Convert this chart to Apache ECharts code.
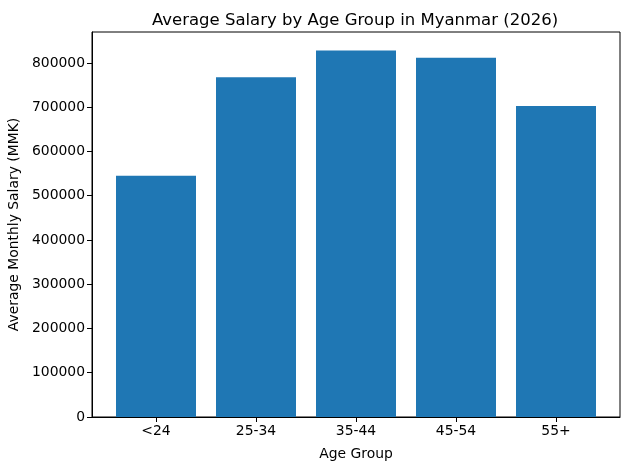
<!DOCTYPE html>
<html><head><meta charset="utf-8">
<script src="https://cdn.jsdelivr.net/npm/echarts@6/dist/echarts.min.js"></script>
<style>html,body{margin:0;padding:0;background:#fff}#c{width:630px;height:470px}</style>
</head><body><div id="c"></div>
<script>
var categories = ['<24', '25-34', '35-44', '45-54', '55+'];
var salaries = [545000, 768000, 828000, 812000, 703000];
var yTicks = [0, 100000, 200000, 300000, 400000, 500000, 600000, 700000, 800000];

var idx = categories.map(function(_, i){ return i; });
var chart = echarts.init(document.getElementById('c'), null, {renderer:'canvas'});
var font = 'DejaVu Sans';
chart.setOption({
  animation:false,
  backgroundColor:'#fff',
  title:{text:'Average Salary by Age Group in Myanmar (2026)', left:350, top:7, textAlign:'center',
    textStyle:{fontFamily:font, fontSize:16.5, fontWeight:'normal', color:'#000'}},
  grid:{left:92, right:10, top:32, bottom:53, containLabel:false, outerBoundsMode:'none',
    show:true, borderColor:'#000', borderWidth:1, backgroundColor:'transparent'},
  xAxis:{type:'value', min:-0.64, max:4.64,
    name:'Age Group', nameLocation:'middle', nameGap:30,
    nameTextStyle:{fontFamily:font, fontSize:13.9, color:'#000'},
    axisLine:{show:true, onZero:false, lineStyle:{color:'#000', width:1}},
    axisTick:{show:true, length:5, lineStyle:{color:'#000'}, customValues: idx},
    axisLabel:{show:true, margin:7, fontFamily:font, fontSize:13.9, color:'#000', customValues: idx,
      formatter:function(v){ return categories[Math.round(v)]; }},
    splitLine:{show:false}},
  yAxis:{type:'value', min:0, max:870000, interval:100000,
    name:'Average Monthly Salary (MMK)', nameLocation:'middle', nameGap:70,
    nameTextStyle:{fontFamily:font, fontSize:13.9, color:'#000'},
    axisLine:{show:true, onZero:false, lineStyle:{color:'#000', width:1}},
    axisTick:{show:true, length:5, lineStyle:{color:'#000'}, customValues: yTicks},
    axisLabel:{fontFamily:font, fontSize:13.9, color:'#000', margin:7, customValues: yTicks,
      formatter:function(v){ return String(v); }},
    splitLine:{show:false}},
  series:[{type:'bar', barWidth:80, itemStyle:{color:'#1f77b4'},
    data: salaries.map(function(v,i){ return [i, v]; })}]
});
</script></body></html>
